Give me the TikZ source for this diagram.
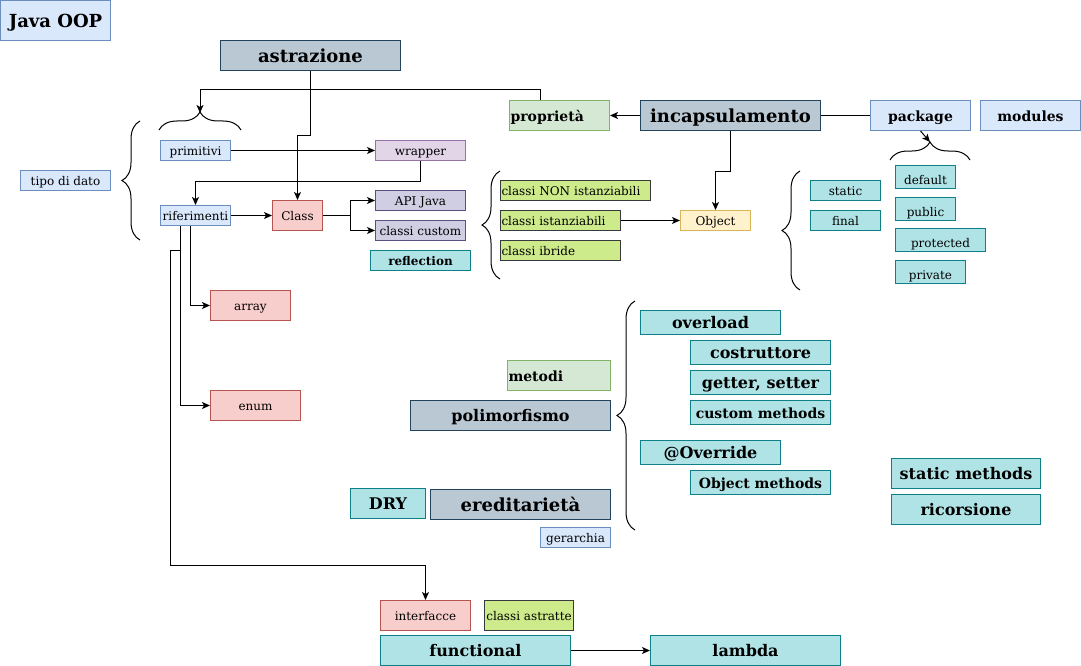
\documentclass[tikz,border=0pt]{standalone}
\usepackage{fontspec}
\setmainfont{DejaVu Serif}
\usetikzlibrary{decorations.pathreplacing, arrows.meta}

\definecolor{bluF}{HTML}{DAE8FC}  \definecolor{bluD}{HTML}{6C8EBF}
\definecolor{ardF}{HTML}{BAC8D3}  \definecolor{ardD}{HTML}{23445D}
\definecolor{verF}{HTML}{D5E8D4}  \definecolor{verD}{HTML}{82B366}
\definecolor{vioF}{HTML}{E1D5E7}  \definecolor{vioD}{HTML}{9673A6}
\definecolor{rosF}{HTML}{F8CECC}  \definecolor{rosD}{HTML}{B85450}
\definecolor{lavF}{HTML}{D0CEE2}  \definecolor{lavD}{HTML}{56517E}
\definecolor{tealF}{HTML}{B0E3E6} \definecolor{tealD}{HTML}{0E8088}
\definecolor{limF}{HTML}{CDEB8B}  \definecolor{limD}{HTML}{36393D}
\definecolor{gialF}{HTML}{FFF2CC} \definecolor{gialD}{HTML}{D6B656}

\def \bracew {18}

\tikzset{
  box/.style={draw, anchor=north west, inner sep=1pt, line width=1pt,
              font=\fontsize{12}{14}\selectfont, text height=12.6pt, text depth=3pt},
  blu/.style={box, fill=bluF, draw=bluD},
  ard/.style={box, fill=ardF, draw=ardD},
  ver/.style={box, fill=verF, draw=verD},
  vio/.style={box, fill=vioF, draw=vioD},
  ros/.style={box, fill=rosF, draw=rosD},
  lav/.style={box, fill=lavF, draw=lavD},
  teal/.style={box, fill=tealF, draw=tealD},
  lim/.style={box, fill=limF, draw=limD},
  gial/.style={box, fill=gialF, draw=gialD},
  b12/.style={font=\bfseries\fontsize{12}{14}\selectfont},
  b14/.style={font=\bfseries\fontsize{14}{16}\selectfont, text height=14.7pt, text depth=3.5pt},
  b16/.style={font=\bfseries\fontsize{16}{18}\selectfont, text height=16.8pt, text depth=4pt},
  b18/.style={font=\bfseries\fontsize{18}{20}\selectfont, text height=18.9pt, text depth=4.5pt},
  basso/.style={text height=17.6pt},
  lft/.style={align=left, inner xsep=1pt},
  graffa/.style={decorate, decoration={brace, amplitude=\bracew}, line width=1pt},
}

\begin{document}
\begin{tikzpicture}[x=1pt, y=-1pt, >={Stealth[length=8pt, width=7pt, inset=2pt]}, line width=1pt]
\useasboundingbox (0,0) rectangle (1081,666);

% titolo e concetti principali
\node[blu, b18, minimum width=110, minimum height=40] (javaoop) at (0,0) {Java OOP};
\node[ard, b18, minimum width=180, minimum height=30] (astrazione) at (220,40) {astrazione};
\node[ver, b14, lft, text width=98, minimum height=30] (proprieta) at (509,100) {proprietà};
\node[ard, b18, minimum width=180, minimum height=30] (incaps) at (640,100) {incapsulamento};
\node[blu, b14, minimum width=100, minimum height=30] (package) at (870,100) {package};
\node[blu, b14, minimum width=100, minimum height=30] (modules) at (980,100) {modules};

% tipi di dato
\node[blu, minimum width=90, minimum height=20] (tipodato) at (20,170) {tipo di dato};
\node[blu, minimum width=70, minimum height=20] (primitivi) at (160,140) {primitivi};
\node[blu, minimum width=70, minimum height=20] (riferimenti) at (160,205) {riferimenti};
\node[vio, minimum width=90, minimum height=20] (wrapper) at (375,140) {wrapper};
\node[ros, minimum width=50, minimum height=30] (class) at (272,200) {Class};
\node[lav, minimum width=90, minimum height=20] (apijava) at (375,190) {API Java};
\node[lav, minimum width=90, minimum height=20] (custom) at (375,220) {classi custom};
\node[teal, b12, minimum width=100, minimum height=20] (reflection) at (370,250) {reflection};
\node[ros, minimum width=80, minimum height=30] (array) at (210,290) {array};
\node[ros, minimum width=90, minimum height=30] (enum) at (210,390) {enum};
\draw[graffa] (140,240) -- (140,121);
\draw[graffa] (159,130) -- (241,130);
\coordinate (primtip) at (200,113);

% classi e Object
\node[lim, lft, text width=148, minimum height=20] (nonist) at (500,180) {classi NON istanziabili};
\node[lim, lft, text width=118, minimum height=20] (ist) at (500,210) {classi istanziabili};
\node[lim, lft, text width=118, minimum height=20] (ibride) at (500,240) {classi ibride};
\node[gial, minimum width=70, minimum height=20] (object) at (680,210) {Object};
\draw[graffa] (500,279) -- (500,171);

% modificatori
\node[teal, minimum width=70, minimum height=20] (static) at (810,180) {static};
\node[teal, minimum width=70, minimum height=20] (final) at (810,210) {final};
\node[teal, basso, minimum width=60, minimum height=23] (default) at (895,165) {default};
\node[teal, basso, minimum width=60, minimum height=23] (public) at (895,197) {public};
\node[teal, basso, minimum width=90, minimum height=23] (protected) at (895,228) {protected};
\node[teal, basso, minimum width=70, minimum height=23] (private) at (895,260) {private};
\draw[graffa] (800,290) -- (800,171);
\draw[graffa] (890,160) -- (970,160);
\coordinate (pkgtip) at (930,142);

% polimorfismo
\node[teal, b16, minimum width=140, minimum height=24] (overload) at (640,310) {overload};
\node[teal, b16, minimum width=140, minimum height=24] (costruttore) at (690,340) {costruttore};
\node[teal, b16, minimum width=140, minimum height=24] (getset) at (690,370) {getter, setter};
\node[teal, b14, minimum width=140, minimum height=24] (custmeth) at (690,400) {custom methods};
\node[teal, b16, minimum width=140, minimum height=24] (override) at (640,440) {@Override};
\node[teal, b14, minimum width=140, minimum height=24] (objmeth) at (690,470) {Object methods};
\node[ver, b14, lft, text width=101, minimum height=30] (metodi) at (507,360) {metodi};
\node[ard, b16, minimum width=200, minimum height=30] (polimorf) at (410,400) {polimorfismo};
\draw[graffa] (635,530) -- (635,301);

% ereditarieta
\node[teal, b16, minimum width=75, minimum height=30] (dry) at (350,488) {DRY};
\node[ard, b18, minimum width=180, minimum height=30] (ereditarieta) at (430,489) {ereditarietà};
\node[blu, minimum width=70, minimum height=20] (gerarchia) at (540,527) {gerarchia};
\node[teal, b16, minimum width=149, minimum height=30] (staticmeth) at (891,458) {static methods};
\node[teal, b16, minimum width=149, minimum height=30] (ricorsione) at (891,494) {ricorsione};

% interfacce
\node[ros, minimum width=90, minimum height=30] (interfacce) at (380,600) {interfacce};
\node[lim, minimum width=89, minimum height=30] (astratte) at (484,600) {classi astratte};
\node[teal, b16, minimum width=190, minimum height=30] (functional) at (380,635) {functional};
\node[teal, b16, minimum width=190, minimum height=30] (lambda) at (650,635) {lambda};
\coordinate (stub) at (180,250);

% collegamenti
\draw[->] (astrazione.south) -- ++(0,65) -| (class.north);
\draw[->] ([xshift=-19pt]proprieta.north) -- ++(0,-10) -| (primtip);
\draw[->] (primitivi.east) -- (wrapper.west);
\draw[->] (wrapper.south) -- ++(0,20) -| (riferimenti.north);
\draw[->] (riferimenti.east) -- (class.west);
\draw[->] (class.east) -- ++(27,0) |- (apijava.west);
\draw[->] (class.east) -- ++(27,0) |- (custom.west);
\draw[->] ([xshift=-5pt]riferimenti.south) |- (array.west);
\draw[->] ([xshift=-15pt]riferimenti.south) |- (enum.west);
\draw[->] (stub) -- ++(-10,0) -- (170,565) -| (interfacce.north);
\draw[->] (incaps.west) -- (proprieta.east);
\draw (incaps.east) -- (package.west);
\draw[->] (incaps.south) -- ++(0,40) -| (object.north);
\draw[->] (ist.east) -- (object.west);
\draw[->] (package.south) -- (pkgtip);
\draw[->] (functional.east) -- (lambda.west);
\end{tikzpicture}
\end{document}
